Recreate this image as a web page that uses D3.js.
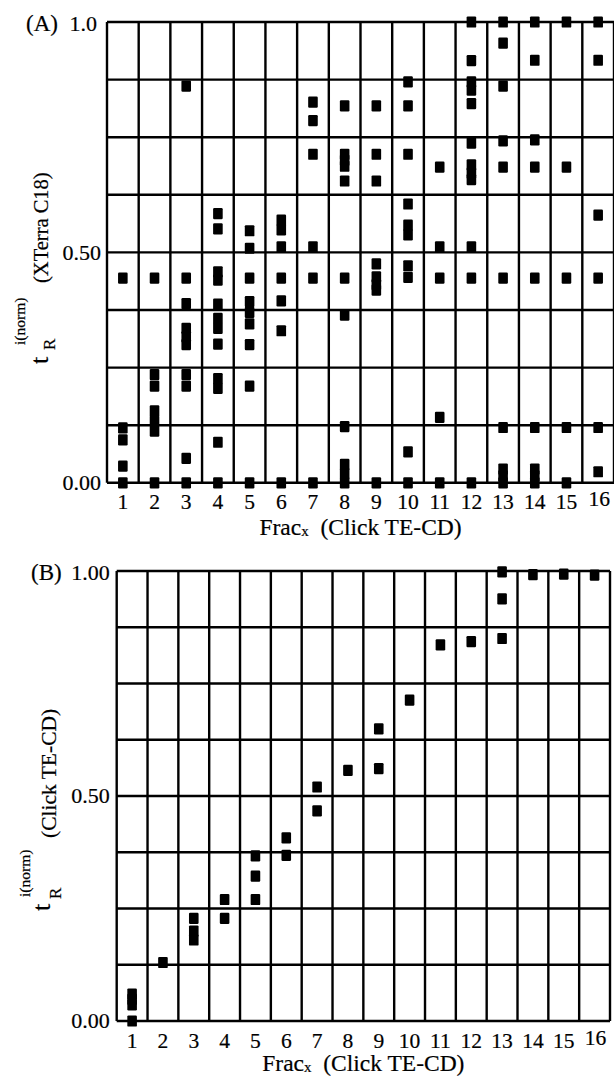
<!DOCTYPE html>
<html><head><meta charset="utf-8">
<script src="https://cdn.jsdelivr.net/npm/d3@7"></script>
<style>
body{margin:0;background:#fff}
svg{display:block}
text{font-family:"Liberation Serif","Times New Roman",serif;fill:#000;stroke:#000;stroke-width:0.2px}
</style>
</head><body><svg id="chart" width="614" height="1077"></svg>
<script>
// ---- data ----
const fractions = [1,2,3,4,5,6,7,8,9,10,11,12,13,14,15,16];
const xTickLabels = ["1","2","3","4","5","6","7","8","9","10","11","12","13","14","15","16"];
// Panel A: normalized retention on XTerra C18 for each Click TE-CD fraction
const valuesA = [
  [0.444, 0.119, 0.093, 0.036, 0],
  [0.444, 0.235, 0.21, 0.156, 0.134, 0.112, 0],
  [0.861, 0.444, 0.389, 0.335, 0.317, 0.30, 0.235, 0.21, 0.053, 0],
  [0.584, 0.551, 0.458, 0.44, 0.388, 0.357, 0.335, 0.301, 0.226, 0.205, 0.088, 0],
  [0.547, 0.509, 0.444, 0.393, 0.37, 0.345, 0.30, 0.21, 0],
  [0.57, 0.549, 0.512, 0.444, 0.395, 0.33, 0],
  [0.826, 0.786, 0.713, 0.512, 0.444, 0],
  [0.818, 0.713, 0.70, 0.687, 0.655, 0.444, 0.364, 0.122, 0.04, 0.02, 0],
  [0.818, 0.713, 0.655, 0.475, 0.447, 0.43, 0.418, 0],
  [0.87, 0.818, 0.713, 0.605, 0.559, 0.538, 0.471, 0.446, 0.067, 0],
  [0.685, 0.512, 0.444, 0.142, 0],
  [1.0, 0.916, 0.87, 0.852, 0.823, 0.737, 0.69, 0.672, 0.658, 0.512, 0.444, 0],
  [1.0, 0.954, 0.861, 0.742, 0.685, 0.444, 0.12, 0.03, 0.015, 0],
  [1.0, 0.917, 0.744, 0.685, 0.444, 0.12, 0.03, 0.015, 0],
  [1.0, 0.685, 0.444, 0.12, 0],
  [1.0, 0.917, 0.581, 0.444, 0.12, 0.024]
];
// Panel B: normalized retention on Click TE-CD
const valuesB = [
  [0.06, 0.048, 0.036, 0],
  [0.13],
  [0.228, 0.2, 0.18],
  [0.27, 0.228],
  [0.367, 0.322, 0.27],
  [0.407, 0.368],
  [0.52, 0.467],
  [0.557],
  [0.649, 0.561],
  [0.713],
  [0.836],
  [0.843],
  [0.998, 0.938, 0.85],
  [0.992],
  [0.993],
  [0.991]
];
const yTickValues = [0, 0.5, 1];
const yTickLabelsA = ["0.00", "0.50", "1.0"];
const yTickLabelsB = ["0.00", "0.50", "1.00"];
const gridValues = [0, 0.125, 0.25, 0.375, 0.5, 0.625, 0.75, 0.875, 1];
const xTitleMain = "Frac";
const xTitleSub = "x";
const xTitleRest = "  (Click TE-CD)";

const svg = d3.select("#chart");

function drawPanel(cfg) {
  const g = svg.append("g");
  const x = d3.scaleBand().domain(fractions).range([cfg.left, cfg.right]).padding(0);
  const y = d3.scaleLinear().domain([0, 1]).range([cfg.bottom, cfg.top]);
  const bw = x.bandwidth();

  // grid (horizontal)
  g.append("g").selectAll("line").data(gridValues).join("line")
    .attr("x1", cfg.left).attr("x2", cfg.right)
    .attr("y1", d => y(d)).attr("y2", d => y(d))
    .attr("stroke", "#000").attr("stroke-width", 2.4);
  // grid (vertical): band edges
  const edges = fractions.map(f => x(f)).concat([cfg.right]);
  g.append("g").selectAll("line").data(edges).join("line")
    .attr("x1", d => d).attr("x2", d => d)
    .attr("y1", cfg.top).attr("y2", cfg.bottom)
    .attr("stroke", "#000").attr("stroke-width", 2.4);

  // markers
  const pts = [];
  cfg.values.forEach((vals, i) => vals.forEach(v => pts.push({f: fractions[i], v})));
  g.append("g").selectAll("rect").data(pts).join("rect")
    .attr("x", d => x(d.f) + bw / 2 - 4.8)
    .attr("y", d => y(d.v) - 5.6)
    .attr("width", 9.6).attr("height", 11.2)
    .attr("rx", 1.2)
    .attr("fill", "#000");

  // y axis labels
  const ya = d3.axisLeft(y).tickValues(yTickValues)
    .tickFormat((d, i) => cfg.yLabels[i]).tickSize(0).tickPadding(cfg.yPad);
  const yg = g.append("g").attr("transform", `translate(${cfg.left},0)`).call(ya);
  yg.select(".domain").remove();
  yg.selectAll("text").attr("font-size", 22).attr("dy", "0.3em")
    .style("font-family", '"Liberation Serif","Times New Roman",serif')
    .attr("transform", d => d === 1 ? `translate(${cfg.topShift},2)` : null);

  // x axis labels
  const xa = d3.axisBottom(x).tickFormat((d, i) => xTickLabels[i]).tickSize(0).tickPadding(cfg.xPad);
  const xg = g.append("g").attr("transform", `translate(0,${cfg.bottom})`).call(xa);
  xg.select(".domain").remove();
  xg.selectAll("text").attr("font-size", 21.5)
    .style("font-family", '"Liberation Serif","Times New Roman",serif')
    .attr("transform", d => d === 16 ? "translate(1,-3)" : null);

  // panel letter
  g.append("text").attr("x", cfg.letterX).attr("y", y(1) + 8.5)
    .attr("font-size", 23).text(cfg.letter);

  // x title
  const t = g.append("text").attr("x", (cfg.left + cfg.right) / 2).attr("y", cfg.xTitleY)
    .attr("text-anchor", "middle").attr("font-size", 23.5).attr("xml:space", "preserve");
  t.append("tspan").text(xTitleMain);
  t.append("tspan").attr("font-size", 15).attr("dy", 1).text(xTitleSub);
  t.append("tspan").attr("dy", -1).text(xTitleRest);

  // y title (rotated)
  const yt = g.append("g").attr("transform", `translate(${cfg.yl.x},${cfg.yl.y}) rotate(-90)`);
  yt.append("text").attr("x", 0).attr("y", 0).attr("font-size", 26).text("t");
  yt.append("text").attr("x", cfg.yl.supX).attr("y", cfg.yl.supY).attr("font-size", 15.5).text("i(norm)");
  yt.append("text").attr("x", cfg.yl.subX).attr("y", cfg.yl.subY).attr("font-size", 17).text("R");
  yt.append("text").attr("x", cfg.yl.restX).attr("y", cfg.yl.restY).attr("font-size", cfg.yl.restSize).text(cfg.yl.rest);
}

drawPanel({
  left: 107, right: 614, top: 22, bottom: 482.8,
  values: valuesA, yLabels: yTickLabelsA, yPad: 6, xPad: 11, topShift: -4,
  letter: "(A)", letterX: 26, xTitleY: 535,
  yl: {x: 48, y: 364, supX: 19, supY: -23, subX: 14, subY: 7,
       restX: 81, restY: 0, restSize: 20.5, rest: "(XTerra C18)"}
});
drawPanel({
  left: 116.7, right: 610, top: 571, bottom: 1021,
  values: valuesB, yLabels: yTickLabelsB, yPad: 7, xPad: 12, topShift: 0,
  letter: "(B)", letterX: 31, xTitleY: 1071,
  yl: {x: 50, y: 911, supX: 14, supY: -20, subX: 12, subY: 11,
       restX: 73, restY: 6, restSize: 21.5, rest: "(Click TE-CD)"}
});
</script>
</body></html>
